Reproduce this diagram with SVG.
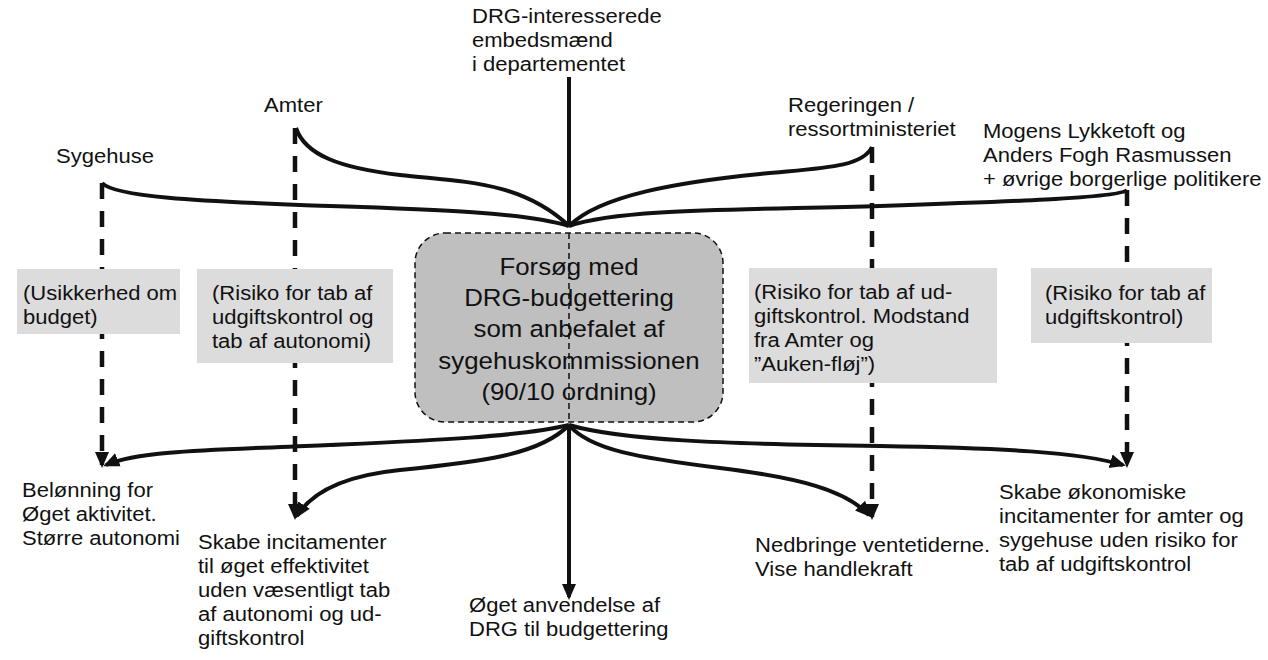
<svg xmlns="http://www.w3.org/2000/svg" width="1268" height="660" viewBox="0 0 1268 660">
<defs>
<style>
.t{font-family:"Liberation Sans",Arial,sans-serif;font-size:19.5px;fill:#111}
.ct{font-family:"Liberation Sans",Arial,sans-serif;font-size:23.5px;fill:#111}
.conn{fill:none;stroke:#111;stroke-width:4}
.dash{fill:none;stroke:#111;stroke-width:4.5;stroke-dasharray:16 12}
.box{fill:#dcdcdc}
</style>
<marker id="ah" markerUnits="userSpaceOnUse" markerWidth="16" markerHeight="16" viewBox="0 0 16 16" refX="13" refY="8" orient="auto">
<path d="M0,1 L16,8 L0,15 Z" fill="#111"/>
</marker>
</defs>
<rect width="1268" height="660" fill="#fff"/>

<g id="connectors">
<path class="dash" d="M102,183 L102,465" marker-end="url(#ah)"/>
<path class="dash" d="M295,128 L295,517" marker-end="url(#ah)"/>
<path class="dash" d="M872,147 L872,517" marker-end="url(#ah)"/>
<path class="dash" d="M1127,190 L1127,465" marker-end="url(#ah)"/>
<path class="conn" d="M102,183 C115,197 200,201 300,205 C420,209 520,211 569,226"/>
<path class="conn" d="M296,128 C305,155 340,168 400,175 C460,182 520,180 569,226"/>
<path class="conn" d="M569,77 L569,226"/>
<path class="conn" d="M872,147 C862,168 820,168 760,174 C680,182 600,195 569,226"/>
<path class="conn" d="M1127,190 C1120,198 1000,202 880,206 C750,210 620,208 569,226"/>
<path class="conn" d="M569,425 C520,437 420,441 330,445 C220,450 140,450 106,465" marker-end="url(#ah)"/>
<path class="conn" d="M569,425 C540,455 480,462 400,470 C340,476 310,495 297,516" marker-end="url(#ah)"/>
<path class="conn" d="M569,425 L569,597" marker-end="url(#ah)"/>
<path class="conn" d="M569,425 C590,450 640,458 720,468 C800,478 845,490 869,515" marker-end="url(#ah)"/>
<path class="conn" d="M569,425 C620,440 720,444 880,446 C1000,448 1080,452 1123,465" marker-end="url(#ah)"/>
</g>

<g id="center">
<rect x="415" y="233" width="308" height="189" rx="30" fill="#bfbfbf" stroke="#111" stroke-width="1.5" stroke-dasharray="6 4"/>
<line x1="569" y1="233" x2="569" y2="422" stroke="#111" stroke-width="1.5" stroke-dasharray="6 4"/>
<text class="ct" text-anchor="middle" transform="matrix(1.1 0 0 1 569 275)"><tspan x="0" y="0">Forsøg med</tspan><tspan x="0" dy="31.2">DRG-budgettering</tspan><tspan x="0" dy="31.2">som anbefalet af</tspan><tspan x="0" dy="31.2">sygehuskommissionen</tspan><tspan x="0" dy="31.2">(90/10 ordning)</tspan></text>
</g>

<g id="sygehuse"><text class="t" transform="matrix(1.13 0 0 1 56 163)">Sygehuse</text></g>
<g id="amter"><text class="t" transform="matrix(1.13 0 0 1 264 112)">Amter</text></g>
<g id="drg-embedsmaend"><text class="t" transform="matrix(1.13 0 0 1 472 23)"><tspan x="0" y="0">DRG-interesserede</tspan><tspan x="0" dy="24">embedsmænd</tspan><tspan x="0" dy="24">i departementet</tspan></text></g>
<g id="regeringen"><text class="t" transform="matrix(1.13 0 0 1 788 112)"><tspan x="0" y="0">Regeringen /</tspan><tspan x="0" dy="24">ressortministeriet</tspan></text></g>
<g id="politikere"><text class="t" transform="matrix(1.13 0 0 1 983 138)"><tspan x="0" y="0">Mogens Lykketoft og</tspan><tspan x="0" dy="24">Anders Fogh Rasmussen</tspan><tspan x="0" dy="24">+ øvrige borgerlige politikere</tspan></text></g>

<g id="risk-sygehuse"><rect class="box" x="17" y="269" width="163" height="65"/><text class="t" transform="matrix(1.13 0 0 1 23 300)"><tspan x="0" y="0">(Usikkerhed om</tspan><tspan x="0" dy="24">budget)</tspan></text></g>
<g id="risk-amter"><rect class="box" x="197" y="269" width="196" height="94"/><text class="t" transform="matrix(1.13 0 0 1 212 300)"><tspan x="0" y="0">(Risiko for tab af</tspan><tspan x="0" dy="24">udgiftskontrol og</tspan><tspan x="0" dy="24">tab af autonomi)</tspan></text></g>
<g id="risk-regering"><rect class="box" x="749" y="268" width="248" height="115"/><text class="t" transform="matrix(1.13 0 0 1 754 299)"><tspan x="0" y="0">(Risiko for tab af ud-</tspan><tspan x="0" dy="24">giftskontrol. Modstand</tspan><tspan x="0" dy="24">fra Amter og</tspan><tspan x="0" dy="24">”Auken-fløj”)</tspan></text></g>
<g id="risk-politikere"><rect class="box" x="1031" y="268" width="181" height="75"/><text class="t" transform="matrix(1.13 0 0 1 1045 300)"><tspan x="0" y="0">(Risiko for tab af</tspan><tspan x="0" dy="24">udgiftskontrol)</tspan></text></g>

<g id="goal-sygehuse"><text class="t" transform="matrix(1.13 0 0 1 22 497)"><tspan x="0" y="0">Belønning for</tspan><tspan x="0" dy="24">Øget aktivitet.</tspan><tspan x="0" dy="24">Større autonomi</tspan></text></g>
<g id="goal-amter"><text class="t" transform="matrix(1.13 0 0 1 198 549)"><tspan x="0" y="0">Skabe incitamenter</tspan><tspan x="0" dy="24">til øget effektivitet</tspan><tspan x="0" dy="24">uden væsentligt tab</tspan><tspan x="0" dy="24">af autonomi og ud-</tspan><tspan x="0" dy="24">giftskontrol</tspan></text></g>
<g id="goal-drg"><text class="t" transform="matrix(1.13 0 0 1 469 612)"><tspan x="0" y="0">Øget anvendelse af</tspan><tspan x="0" dy="24">DRG til budgettering</tspan></text></g>
<g id="goal-regering"><text class="t" transform="matrix(1.13 0 0 1 755 552)"><tspan x="0" y="0">Nedbringe ventetiderne.</tspan><tspan x="0" dy="24">Vise handlekraft</tspan></text></g>
<g id="goal-politikere"><text class="t" transform="matrix(1.13 0 0 1 999 499)"><tspan x="0" y="0">Skabe økonomiske</tspan><tspan x="0" dy="24">incitamenter for amter og</tspan><tspan x="0" dy="24">sygehuse uden risiko for</tspan><tspan x="0" dy="24">tab af udgiftskontrol</tspan></text></g>
</svg>
